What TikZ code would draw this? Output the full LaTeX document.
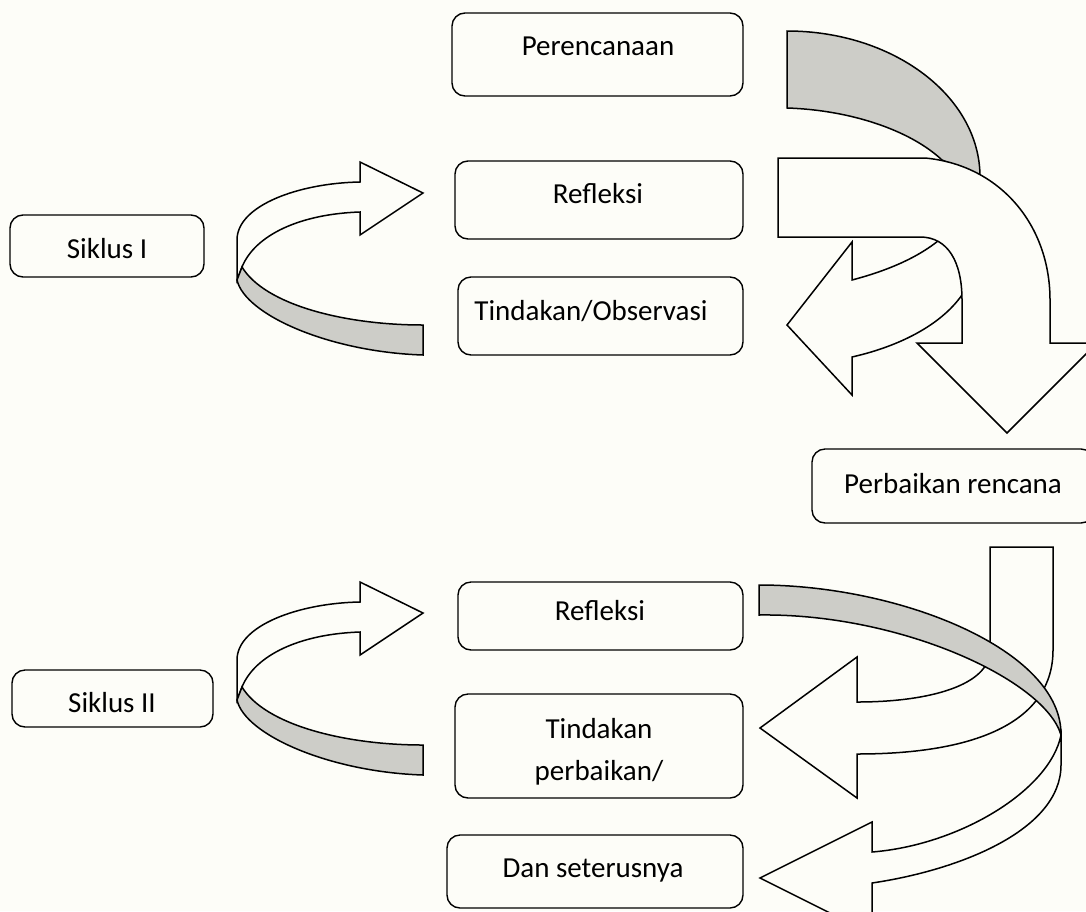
\documentclass[tikz,border=0pt]{standalone}
\usepackage{fontspec}
\setmainfont{Carlito}
\definecolor{bg}{RGB}{253,253,248}
\definecolor{band}{RGB}{205,205,200}
\begin{document}
\begin{tikzpicture}[x=1pt,y=-1pt,
  box/.style={draw, line width=1.4pt, rounded corners=13pt, fill=bg, inner sep=0pt},
  txt/.style={font=\fontsize{29}{42}\selectfont, inner sep=0pt, anchor=base, align=center},
  front/.style={draw, line width=1.5pt, fill=bg, line join=miter},
  back/.style={draw, line width=1.5pt, fill=band, line join=miter}]
\fill[bg] (0,0) rectangle (1086,911);
\useasboundingbox (0,0) rectangle (1086,911);

% boxes
\node[box, minimum width=291, minimum height=83] (plan) at (597.5,54.5) {};
\node[box, minimum width=288, minimum height=78] (ref1) at (599,200) {};
\node[box, minimum width=285, minimum height=78] (act1) at (600.5,316) {};
\node[box, minimum width=194, minimum height=62] (sik1) at (107,246) {};
\node[box, minimum width=201, minimum height=57] (sik2) at (112.5,698.5) {};
\node[box, minimum width=282, minimum height=74] (fix) at (953,486) {};
\node[box, minimum width=285, minimum height=68] (ref2) at (600.5,616) {};
\node[box, minimum width=288, minimum height=104] (act2) at (599,746) {};
\node[box, minimum width=296, minimum height=73] (next) at (595,871.5) {};

% texts
\node[txt] (plan-t) at (598,55) {Perencanaan};
\node[txt] (ref1-t) at (598,203) {Refleksi};
\node[txt] (act1-t) at (591,320) {Tindakan/Observasi};
\node[txt] (sik1-t) at (107,258) {Siklus I};
\node[txt] (sik2-t) at (112,712) {Siklus II};
\node[txt] (fix-t) at (953,493) {Perbaikan rencana};
\node[txt] (ref2-t) at (600,620) {Refleksi};
\node[txt] (act2-t) at (599,780) {Tindakan\\perbaikan/};
\node[txt] (next-t) at (593,877) {Dan seterusnya};

% left curved arrows (Siklus I and II)
\foreach \dy in {0,420}{
\begin{scope}[shift={(0,\dy)}]
\draw[front] (237,280) -- (237,240) .. controls (237,205) and (300,183) .. (360,182)
  -- (360,162) -- (423,193) -- (360,235) -- (360,212)
  .. controls (300,214) and (255,235) .. (242,267) -- cycle;
\draw[back] (242,267) .. controls (265,305) and (345,325) .. (423,325) -- (423,355)
  .. controls (330,352) and (245,315) .. (237,280) -- cycle;
\end{scope}
}

% top right: gray back band
\draw[back] (787,108) -- (787,31) .. controls (893,31) and (980,96) .. (980,177)
  -- (942,160) .. controls (910,130) and (850,110) .. (787,108) -- cycle;
% middle left-pointing arrow
\draw[front] (852,280) -- (852,242) -- (787,325) -- (852,395) -- (852,357)
  .. controls (905,345) and (950,320) .. (968,285) -- (948,232)
  .. controls (925,255) and (890,270) .. (852,280) -- cycle;
% big down arrow
\draw[front] (778,158) -- (925,158) .. controls (1000,165) and (1050,225) .. (1050,300)
  -- (1050,343) -- (1097,343) -- (1007,433) -- (917,343) -- (962,343) -- (962,300)
  .. controls (962,262) and (948,237) .. (920,237) -- (778,237) -- cycle;

% lower right: J arrow
\draw[front] (990,547) -- (1053,547) -- (1053,650) .. controls (1053,720) and (980,754) .. (857,754)
  -- (857,798) -- (760,728) -- (857,657) -- (857,702)
  .. controls (930,702) and (990,685) .. (990,650) -- cycle;
% gray ribbon
\draw[back] (759,585) .. controls (900,585) and (1062,650) .. (1061,735)
  .. controls (1045,680) and (900,613) .. (759,615) -- cycle;
% lower white ribbon arrow
\draw[front] (1061,735) -- (1061,765) .. controls (1061,830) and (960,870) .. (872,883)
  -- (872,934) -- (760,878) -- (872,822) -- (872,852)
  .. controls (960,845) and (1050,790) .. (1061,735) -- cycle;
\end{tikzpicture}
\end{document}
